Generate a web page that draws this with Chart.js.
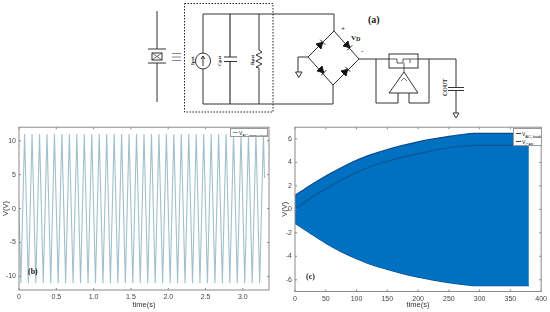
<!DOCTYPE html>
<html><head><meta charset="utf-8">
<script src="https://cdn.jsdelivr.net/npm/chart.js@4"></script>
<style>
html,body{margin:0;padding:0;background:#fff;overflow:hidden}
#wrap{position:relative;width:550px;height:312px;overflow:hidden;background:#fff;filter:blur(.4px);font-family:"Liberation Sans",sans-serif}
canvas{position:absolute}
#sch{position:absolute;left:0;top:0}
.tag{position:absolute;font:bold 8px "Liberation Serif",serif;color:#222}
.leg{position:absolute;background:#fff;border:1px solid #999;box-sizing:border-box;font:5px "Liberation Sans",sans-serif;color:#111;line-height:8px;white-space:nowrap;overflow:hidden}
.leg div{position:relative;padding-left:8px;height:8px}
.leg i{position:absolute;left:1.5px;top:3px;width:5.5px;height:1px;background:#6f9fb5}
.leg sub{font-size:4px;letter-spacing:-.1px;vertical-align:-1.5px;line-height:0;color:#111}
</style></head><body>
<div id="wrap">
<svg id="sch" width="550" height="120" viewBox="0 0 550 120" fill="none" stroke="#333" stroke-width="1">
 <path d="M157 11V49M157 63V102M148 49H166M148 63H166"/>
 <rect x="152" y="53" width="10" height="7"/><path d="M152 53L162 60M162 53L152 60" stroke-width=".7"/>
 <path d="M172 53.5H181M172 57H181M172 60.500H181" stroke="#888"/>
 <rect x="184.500" y="3.500" width="88.500" height="108.500" stroke="#222" stroke-dasharray="1.500 1.500"/>
 <path d="M203 14H334V31M203 104H333V85M203 14V53M203 69V104"/>
 <ellipse cx="203" cy="61" rx="7.500" ry="8"/><path d="M203 66V56M201 59L203 56L205 59"/>
 <path d="M230 14V57M230 62V104M224 57H237M224 61.500H237" stroke-width="1.200"/>
 <path d="M259 14V50L262 52L256 55L262 58L256 61L262 64L256 67L259 68V104"/>
 <path d="M334 31L359 59L333 85L308 57Z"/>
 <path d="M308 57H298V72"/><path d="M295.500 72H302L298.800 77.500Z"/>
 <path d="M359 59H456V87M456 91V113M448 87.500H464M448 90.500H464"/><path d="M453 113H459L456 118Z"/>
 <rect x="389" y="54" width="29" height="14" fill="#fff"/>
 <path d="M389 59H397V63H403V59H410V63M404 63V72M410 59H418" stroke-width=".8"/>
 <path d="M404 72L418 93H389Z"/><path d="M401 81L404 78L407 81" stroke-width=".7"/>
 <path d="M376 59V103H398V93M409 93V103H429V59"/>
 <g fill="#111" stroke="#111" stroke-width=".9">
  <path transform="translate(321,44) rotate(-45)" d="M-3.500 -3.500V3.500L2.500 0ZM2.500 -3.500V3.500"/>
  <path transform="translate(348,46) rotate(45)" d="M-3.500 -3.500V3.500L2.500 0ZM2.500 -3.500V3.500"/>
  <path transform="translate(322,71) rotate(45)" d="M-3.500 -3.500V3.500L2.500 0ZM2.500 -3.500V3.500"/>
  <path transform="translate(346,71) rotate(-45)" d="M-3.500 -3.500V3.500L2.500 0ZM2.500 -3.500V3.500"/>
 </g>
 <g fill="#222" stroke="none" font-family="Liberation Serif,serif" font-weight="bold">
  <text x="368" y="23" font-size="10">(a)</text>
  <text x="341" y="31" font-size="7">+</text>
  <text x="351" y="40" font-size="7">V<tspan font-size="6" dy="1">D</tspan></text>
  <text x="361" y="53" font-size="7">-</text>
  <text transform="translate(194,65) rotate(-90)" font-size="5">Ipzt</text>
  <text transform="translate(221,66) rotate(-90)" font-size="5">Cpzt</text>
  <text transform="translate(254,65) rotate(-90)" font-size="5">Rpzt</text>
  <text transform="translate(447,96) rotate(-90)" font-size="6">COUT</text>
 </g>
</svg>
<canvas id="b" width="275" height="192" style="left:0;top:120px;width:275px;height:192px"></canvas>
<canvas id="c" width="275" height="192" style="left:275px;top:120px;width:275px;height:192px"></canvas>
<div class="tag" style="left:28px;top:267px">(b)</div>
<div class="tag" style="left:306px;top:272px">(c)</div>
<div class="leg" style="left:230px;top:128px;width:38px;height:9px"><div><i></i>V<sub>AC,open circuit</sub></div></div>
<div class="leg" style="left:513px;top:128px;width:29px;height:18px;padding-top:.5px"><div><i style="background:#345"></i>V<sub>AC, loaded</sub></div><div><i style="background:#345"></i>V<sub>CAP</sub></div></div>
</div>
<script>
const timeB=[0,.025,.05,.075,.1,.125,.15,.175,.2,.225,.25,.275,.3,.325,.35,.375,.4,.425,.45,.475,.5,.525,.55,.575,.6,.625,.65,.675,.7,.725,.75,.775,.8,.825,.85,.875,.9,.925,.95,.975,1,1.025,1.05,1.075,1.1,1.125,1.15,1.175,1.2,1.225,1.25,1.275,1.3,1.325,1.35,1.375,1.4,1.425,1.45,1.475,1.5,1.525,1.55,1.575,1.6,1.625,1.65,1.675,1.7,1.725,1.75,1.775,1.8,1.825,1.85,1.875,1.9,1.925,1.95,1.975,2,2.025,2.05,2.075,2.1,2.125,2.15,2.175,2.2,2.225,2.25,2.275,2.3,2.325,2.35,2.375,2.4,2.425,2.45,2.475,2.5,2.525,2.55,2.575,2.6,2.625,2.65,2.675,2.7,2.725,2.75,2.775,2.8,2.825,2.85,2.875,2.9,2.925,2.95,2.975,3,3.025,3.05,3.075,3.1,3.125,3.15,3.175,3.2,3.225,3.25,3.275,3.29];
const voltB=[0,-11,0,11,0,-11,0,11,0,-11,0,11,0,-11,0,11,0,-11,0,11,0,-11,0,11,0,-11,0,11,0,-11,0,11,0,-11,0,11,0,-11,0,11,0,-11,0,11,0,-11,0,11,0,-11,0,11,0,-11,0,11,0,-11,0,11,0,-11,0,11,0,-11,0,11,0,-11,0,11,0,-11,0,11,0,-11,0,11,0,-11,0,11,0,-11,0,11,0,-11,0,11,0,-11,0,11,0,-11,0,11,0,-11,0,11,0,-11,0,11,0,-11,0,11,0,-11,0,11,0,-11,0,11,0,-11,0,11,0,-11,0,11,0,-11,0,11,4.5];
const timeC=[0,25,50,75,100,125,150,175,200,225,250,275,290,300,350,380];
const upperC=[1.18,2.05,2.85,3.55,4.18,4.68,5.1,5.45,5.75,6,6.22,6.4,6.47,6.48,6.48,6.48];
const lowerC=[-1.18,-2.05,-2.88,-3.6,-4.2,-4.72,-5.12,-5.47,-5.78,-6.03,-6.25,-6.42,-6.5,-6.5,-6.5,-6.5];
const capC=[0,.95,1.75,2.5,3.15,3.68,4.1,4.45,4.75,5.02,5.25,5.4,5.45,5.45,5.45,5.45];
const xTicksB=[0,.5,1,1.5,2,2.5,3];
const yTicksB=[-10,-5,0,5,10];
const xTicksC=[0,50,100,150,200,250,300,350,400];
const yTicksC=[-6,-4,-2,0,2,4,6];
const pts=(xs,ys)=>xs.map((x,i)=>({x,y:ys[i]}));
const axisCol='#8a8a8a',txtCol='#444';
const boxPlugin={id:'box',afterDatasetsDraw(ch){
  const {ctx,chartArea:a,scales:{x,y}}=ch;
  ctx.save();ctx.strokeStyle=axisCol;ctx.lineWidth=1;
  ctx.strokeRect(a.left,a.top,a.right-a.left,a.bottom-a.top);
  ctx.beginPath();
  x.ticks.forEach((t,i)=>{const p=x.getPixelForTick(i);ctx.moveTo(p,a.bottom);ctx.lineTo(p,a.bottom-2);ctx.moveTo(p,a.top);ctx.lineTo(p,a.top+2);});
  y.ticks.forEach((t,i)=>{const p=y.getPixelForTick(i);ctx.moveTo(a.left,p);ctx.lineTo(a.left+2,p);ctx.moveTo(a.right,p);ctx.lineTo(a.right-2,p);});
  ctx.stroke();ctx.restore();
}};
function axes(xMin,xMax,xT,yMin,yMax,yT,yW,xH){
  const font={family:'Liberation Sans',size:7};
  const common={grid:{display:false,drawTicks:false},border:{display:false}};
  return {
    x:{...common,type:'linear',min:xMin,max:xMax,afterBuildTicks(s){s.ticks=xT.map(v=>({value:v}));},
       ticks:{font,color:txtCol,padding:3,maxRotation:0,autoSkip:false},
       title:{display:true,text:'time(s)',font:{family:'Liberation Sans',size:7.5},color:'#333',padding:{top:0,bottom:3}},
       afterFit(s){s.height=xH;}},
    y:{...common,type:'linear',min:yMin,max:yMax,afterBuildTicks(s){s.ticks=yT.map(v=>({value:v}));},
       ticks:{font,color:txtCol,padding:3,autoSkip:false},
       title:{display:true,text:'V(V)',font:{family:'Liberation Sans',size:7.5},color:'#333',padding:{top:0,bottom:0}},
       afterFit(s){s.width=yW;}}
  };
}
const base=(pad,scales)=>({responsive:false,animation:false,devicePixelRatio:1,layout:{padding:pad},
  plugins:{legend:{display:false},tooltip:{enabled:false}},scales});
new Chart(document.getElementById('b'),{type:'line',
  data:{datasets:[{data:pts(timeB,voltB),borderColor:'#a3bfcb',borderWidth:1.1,pointRadius:0,tension:0}]},
  options:base({top:5,right:6,left:1,bottom:0},axes(0,3.35,xTicksB,-12,12,yTicksB,18,22)),plugins:[boxPlugin]});
new Chart(document.getElementById('c'),{type:'line',
  data:{datasets:[
    {data:pts(timeC,capC),borderColor:'#0f548f',borderWidth:1.1,pointRadius:0,fill:false,cubicInterpolationMode:'monotone'},
    {data:pts(timeC,upperC),borderColor:'#0b4a8c',backgroundColor:'#0070c0',borderWidth:1.2,pointRadius:0,fill:'+1',cubicInterpolationMode:'monotone'},
    {data:pts(timeC,lowerC),borderColor:'#0b4a8c',borderWidth:1.2,pointRadius:0,fill:false,cubicInterpolationMode:'monotone'}
  ]},
  options:base({top:6,right:7,left:5,bottom:0},axes(0,400,xTicksC,-7,7,yTicksC,15,20.5)),plugins:[boxPlugin]});
</script>
</body></html>
